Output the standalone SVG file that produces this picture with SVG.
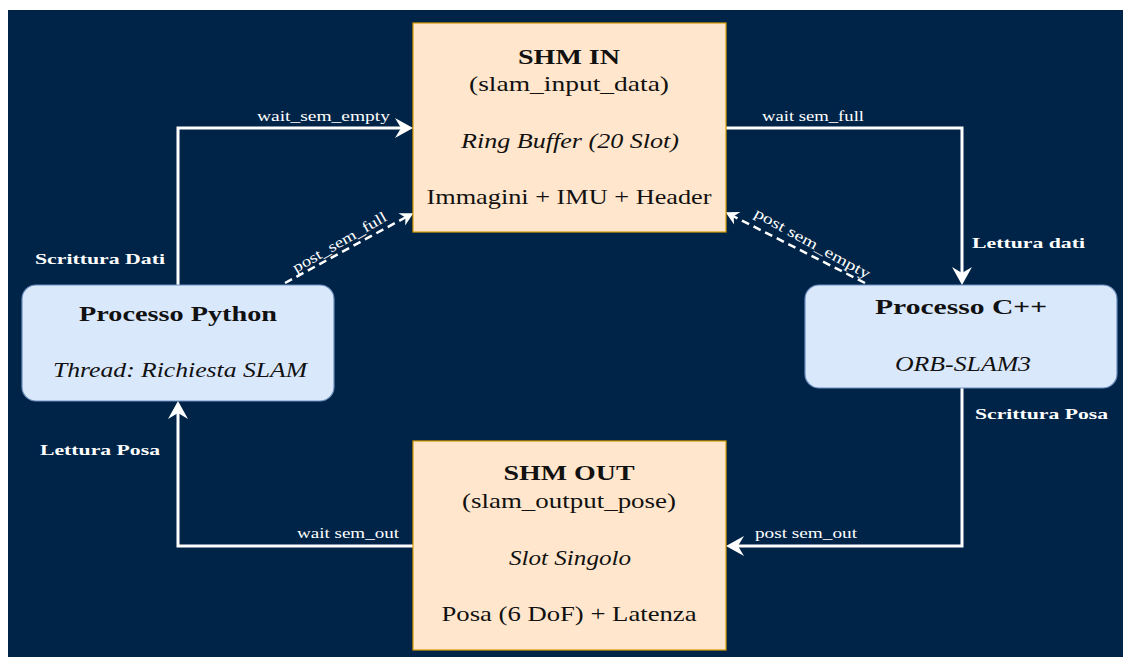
<svg xmlns="http://www.w3.org/2000/svg" width="1123" height="657" viewBox="0 0 1123 657">
<defs>
<style>
.shm{fill:#FFE6CC;stroke:#D79B00;stroke-width:1.2}
.proc{fill:#DAE8FC;stroke:#6C8EBF;stroke-width:1.2}
.t{font-family:"Liberation Serif","DejaVu Serif",serif;fill:#111;text-anchor:middle;font-size:22px}
.b{font-weight:bold}
.i{font-style:italic}
.lbl{font-family:"Liberation Serif","DejaVu Serif",serif;fill:#fff;font-size:15px}
.side{font-family:"Liberation Serif","DejaVu Serif",serif;fill:#fff;font-size:15px;font-weight:bold}
.c{fill:none;stroke:#fff;stroke-width:3}
.d{fill:none;stroke:#fff;stroke-width:2.5;stroke-dasharray:8 5}
</style>
<marker id="ah" viewBox="-20 -10 22 20" refX="-8" refY="0" markerWidth="22" markerHeight="20" markerUnits="userSpaceOnUse" orient="auto">
<path d="M0,0 L-18,-10 L-12,0 L-18,10 Z" fill="#fff"/>
</marker>
<marker id="ahs" viewBox="-20 -10 22 20" refX="-6" refY="0" markerWidth="22" markerHeight="20" markerUnits="userSpaceOnUse" orient="auto">
<path d="M0,0 L-13,-7 L-9,0 L-13,7 Z" fill="#fff"/>
</marker>
</defs>
<rect x="8" y="10" width="1115" height="647" fill="#002447"/>

<g id="connectors">
<polyline class="c" points="178,285 178,128 405,128" marker-end="url(#ah)"/>
<polyline class="c" points="726,128 962,128 962,277" marker-end="url(#ah)"/>
<polyline class="c" points="962,388 962,546 734,546" marker-end="url(#ah)"/>
<polyline class="c" points="413,546 178,546 178,409" marker-end="url(#ah)"/>
<line class="d" x1="285" y1="283" x2="408" y2="216" marker-end="url(#ahs)"/>
<line class="d" x1="865" y1="283" x2="731" y2="215" marker-end="url(#ahs)"/>
<text class="lbl" x="257" y="121" textLength="133" lengthAdjust="spacingAndGlyphs">wait_sem_empty</text>
<text class="lbl" x="762" y="121" textLength="102" lengthAdjust="spacingAndGlyphs">wait sem_full</text>
<text class="lbl" x="755" y="538" textLength="102" lengthAdjust="spacingAndGlyphs">post sem_out</text>
<text class="lbl" x="297" y="538" textLength="102" lengthAdjust="spacingAndGlyphs">wait sem_out</text>
<text class="lbl" text-anchor="middle" transform="translate(342,246.5) rotate(-30)" textLength="106" lengthAdjust="spacingAndGlyphs">post_sem_full</text>
<text class="lbl" text-anchor="middle" transform="translate(810,247.5) rotate(29)" textLength="130" lengthAdjust="spacingAndGlyphs">post sem_empty</text>
<text class="side" x="35" y="264" textLength="130" lengthAdjust="spacingAndGlyphs">Scrittura Dati</text>
<text class="side" x="972" y="248" textLength="113" lengthAdjust="spacingAndGlyphs">Lettura dati</text>
<text class="side" x="975" y="419" textLength="133" lengthAdjust="spacingAndGlyphs">Scrittura Posa</text>
<text class="side" x="40" y="455" textLength="120" lengthAdjust="spacingAndGlyphs">Lettura Posa</text>
</g>

<g id="shm-in">
<rect class="shm" x="413" y="23" width="313" height="209"/>
<text class="t b" x="569" y="64" textLength="102" lengthAdjust="spacingAndGlyphs">SHM IN</text>
<text class="t" x="569" y="91" textLength="200" lengthAdjust="spacingAndGlyphs">(slam_input_data)</text>
<text class="t i" x="570" y="148" textLength="218" lengthAdjust="spacingAndGlyphs">Ring Buffer (20 Slot)</text>
<text class="t" x="569" y="204" textLength="285" lengthAdjust="spacingAndGlyphs">Immagini + IMU + Header</text>
</g>

<g id="shm-out">
<rect class="shm" x="413" y="441" width="313" height="209"/>
<text class="t b" x="569" y="480" textLength="131" lengthAdjust="spacingAndGlyphs">SHM OUT</text>
<text class="t" x="569" y="508" textLength="214" lengthAdjust="spacingAndGlyphs">(slam_output_pose)</text>
<text class="t i" x="570" y="565" textLength="122" lengthAdjust="spacingAndGlyphs">Slot Singolo</text>
<text class="t" x="569" y="621" textLength="255" lengthAdjust="spacingAndGlyphs">Posa (6 DoF) + Latenza</text>
</g>

<g id="proc-python">
<rect class="proc" x="22" y="285" width="312" height="116" rx="14"/>
<text class="t b" x="178" y="321" textLength="198" lengthAdjust="spacingAndGlyphs">Processo Python</text>
<text class="t i" x="180" y="377" textLength="254" lengthAdjust="spacingAndGlyphs">Thread: Richiesta SLAM</text>
</g>

<g id="proc-cpp">
<rect class="proc" x="805" y="285" width="312" height="103" rx="14"/>
<text class="t b" x="961" y="314" textLength="172" lengthAdjust="spacingAndGlyphs">Processo C++</text>
<text class="t i" x="963" y="371" textLength="136" lengthAdjust="spacingAndGlyphs">ORB-SLAM3</text>
</g>
</svg>
